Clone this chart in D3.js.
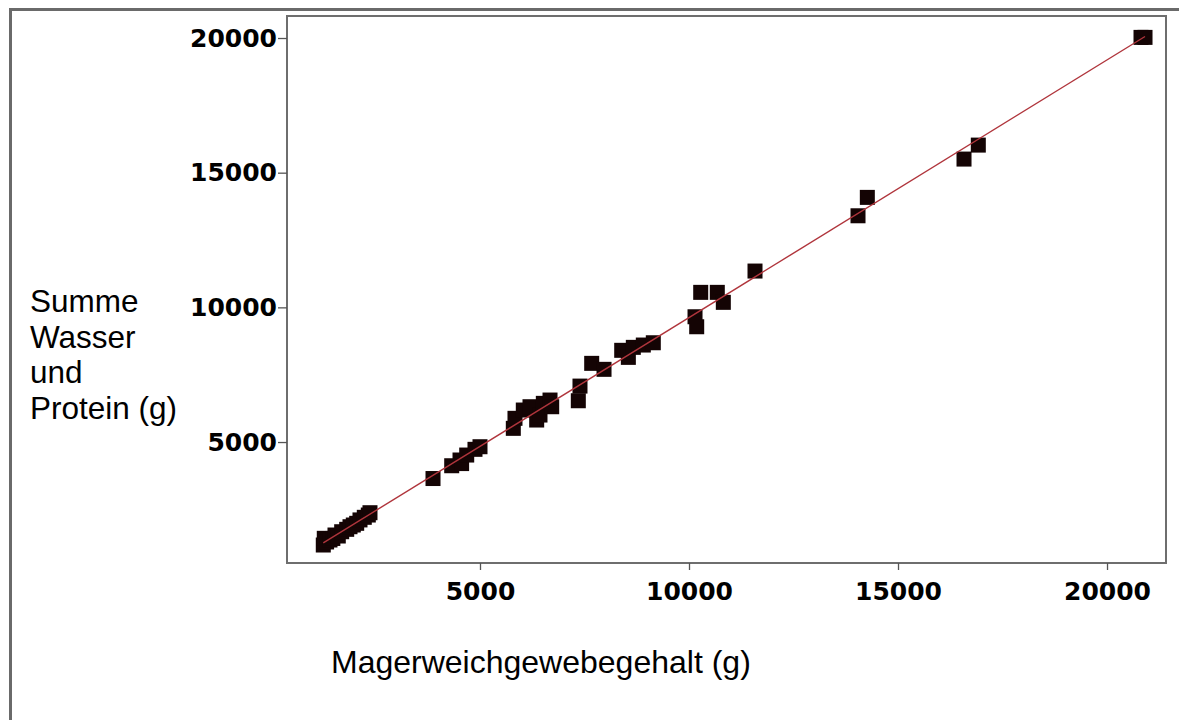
<!DOCTYPE html>
<html>
<head>
<meta charset="utf-8">
<script src="https://cdn.jsdelivr.net/npm/d3@7"></script>
<style>
  html, body { margin: 0; padding: 0; background: #fff; }
  svg { display: block; }
</style>
</head>
<body>
<svg id="chart" width="1179" height="720"></svg>
<script>
// Magerweichgewebegehalt (g) per animal
const leanSoftTissue = [
  1251, 1275, 1330, 1411, 1480, 1531, 1610, 1691, 1811, 1890, 1969, 2050, 2129, 2232, 2328, 2368,
  3876, 4323, 4522, 4560, 4682, 4880, 5000,
  5797, 5837, 6036, 6196, 6356, 6435, 6515, 6675, 6715,
  7352, 7392, 7672, 7967, 8390, 8549, 8668, 8907, 9146,
  10144, 10184, 10280, 10677, 10821, 11579,
  14043, 14266, 16579, 16921, 20813, 20909
];
// Summe Wasser und Protein (g) for the same animals
const waterPlusProtein = [
  1177, 1425, 1290, 1362, 1420, 1548, 1511, 1670, 1759, 1856, 1919, 1982, 2108, 2205, 2290, 2376,
  3645, 4120, 4333, 4200, 4517, 4729, 4826,
  5508, 5880, 6188, 6311, 5817, 6002, 6436, 6559, 6311,
  6533, 7077, 7921, 7699, 8405, 8143, 8515, 8601, 8686,
  9651, 9280, 10557, 10557, 10186, 11348,
  13400, 14083, 15505, 16024, 20023, 20023
];
const xTicks = [5000, 10000, 15000, 20000];
const yTicks = [5000, 10000, 15000, 20000];
const xTitle = "Magerweichgewebegehalt (g)";
const yTitleLines = ["Summe", "Wasser", "und", "Protein (g)"];

const svg = d3.select("#chart");
const plot = { left: 287, right: 1166, top: 16, bottom: 563 };

const x = d3.scaleLinear().domain([383, 21411]).range([plot.left, plot.right]);
const y = d3.scaleLinear().domain([509, 20817]).range([plot.bottom, plot.top]);

// outer panel frame
svg.append("rect")
  .attr("x", 10.5).attr("y", 9.5).attr("width", 1300).attr("height", 900)
  .attr("fill", "none").attr("stroke", "#6a6a6a").attr("stroke-width", 3);

// plot area box
svg.append("rect")
  .attr("x", plot.left).attr("y", plot.top)
  .attr("width", plot.right - plot.left).attr("height", plot.bottom - plot.top)
  .attr("fill", "#fff").attr("stroke", "#6e6e6e").attr("stroke-width", 2);

const tickFont = "'DejaVu Sans', Verdana, sans-serif";

const yAxis = svg.append("g")
  .attr("transform", `translate(${plot.left},0)`)
  .call(d3.axisLeft(y).tickValues(yTicks).tickFormat(d3.format("d")).tickSize(9).tickPadding(1));
const xAxis = svg.append("g")
  .attr("transform", `translate(0,${plot.bottom})`)
  .call(d3.axisBottom(x).tickValues(xTicks).tickFormat(d3.format("d")).tickSize(7).tickPadding(12));

[yAxis, xAxis].forEach(g => {
  g.select(".domain").remove();
  g.selectAll(".tick line").attr("stroke", "#555").attr("stroke-width", 1.3);
  g.selectAll(".tick text")
    .attr("fill", "#000")
    .style("font-family", tickFont)
    .style("font-weight", "bold")
    .style("font-size", "25px");
});

// least-squares fit of the data
const n = leanSoftTissue.length;
const mx = d3.mean(leanSoftTissue), my = d3.mean(waterPlusProtein);
let sxy = 0, sxx = 0;
for (let i = 0; i < n; i++) {
  sxy += (leanSoftTissue[i] - mx) * (waterPlusProtein[i] - my);
  sxx += (leanSoftTissue[i] - mx) ** 2;
}
const slope = sxy / sxx, intercept = my - slope * mx;
const xExt = d3.extent(leanSoftTissue);

// data squares
const size = 15;
svg.append("g").selectAll("rect")
  .data(d3.range(n))
  .join("rect")
  .attr("x", i => x(leanSoftTissue[i]) - size / 2)
  .attr("y", i => y(waterPlusProtein[i]) - size / 2)
  .attr("width", size).attr("height", size)
  .attr("fill", "#140404");

svg.append("line")
  .attr("x1", x(xExt[0])).attr("y1", y(slope * xExt[0] + intercept))
  .attr("x2", x(xExt[1])).attr("y2", y(slope * xExt[1] + intercept))
  .attr("stroke", "#b0353c").attr("stroke-width", 1.4);

// axis titles
const titleFont = "'Liberation Sans', Arial, sans-serif";
svg.append("text")
  .attr("x", 331).attr("y", 673)
  .attr("fill", "#000")
  .style("font-family", titleFont).style("font-size", "32px")
  .text(xTitle);

svg.append("g").selectAll("text")
  .data(yTitleLines)
  .join("text")
  .attr("x", 30)
  .attr("y", (d, i) => 312 + i * 35.5)
  .attr("fill", "#000")
  .style("font-family", titleFont).style("font-size", "31.5px")
  .text(d => d);
</script>
</body>
</html>
